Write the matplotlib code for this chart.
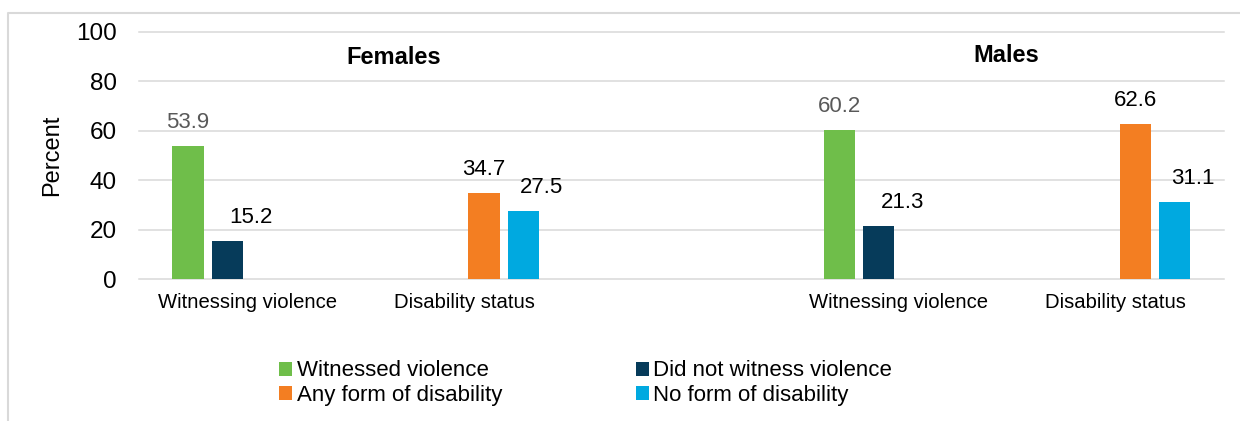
import numpy as np
import matplotlib
matplotlib.use('Agg')
import matplotlib.pyplot as plt
from matplotlib.lines import Line2D

plt.rcParams['font.family'] = ['Liberation Sans', 'DejaVu Sans']

# five slots on the x axis, the middle one left empty between the two panels
groups = ['Witnessing violence', 'Disability status', '',
          'Witnessing violence', 'Disability status']
panel_titles = ['Females', 'Males']
series_names = ['Witnessed violence', 'Did not witness violence',
                'Any form of disability', 'No form of disability']

witnessed = [53.9, np.nan, np.nan, 60.2, np.nan]
not_witnessed = [15.2, np.nan, np.nan, 21.3, np.nan]
any_disability = [np.nan, 34.7, np.nan, np.nan, 62.6]
no_disability = [np.nan, 27.5, np.nan, np.nan, 31.1]

colors = ['#6fbe4a', '#063b5a', '#f37e22', '#00a9e0']
label_colors = ['#595959', '#000000', '#000000', '#000000']
label_dx = [0, 17, 0, 13]   # points, nudges the second label of each pair

W, H = 1240, 421
fig = plt.figure(figsize=(W / 100, H / 100), dpi=100)
ax = fig.add_axes([138.7 / W, 1 - 279 / H, (1224 - 138.7) / W, (279 - 32) / H])

x = np.arange(len(groups))
pitch = 0.182
width = 0.144
series = [witnessed, not_witnessed, any_disability, no_disability]
bars = []
for i, vals in enumerate(series):
    pos = x + (i - 1.5) * pitch
    b = ax.bar(pos, vals, width, color=colors[i], label=series_names[i], zorder=2)
    bars.append(b)
    for p, v in zip(pos, vals):
        if np.isnan(v):
            continue
        ax.annotate(f'{v:.1f}', (p, v), xytext=(label_dx[i], 17),
                    textcoords='offset points', ha='center', va='center',
                    fontsize=16, color=label_colors[i])

ax.text(0.676, 89.6, panel_titles[0], ha='center', va='center',
        fontsize=17, fontweight='bold')
ax.text(3.497, 90.6, panel_titles[1], ha='center', va='center',
        fontsize=17, fontweight='bold')

ax.set_xlim(-0.5, len(groups) - 0.5)
ax.set_ylim(0, 100)
ax.set_yticks(np.arange(0, 101, 20))
ax.set_xticks(x)
ax.set_xticklabels(groups, fontsize=14.6)
ax.tick_params(axis='x', length=0, pad=10.3)
ax.tick_params(axis='y', length=0, pad=15.6, labelsize=17.5)
for s in ax.spines.values():
    s.set_visible(False)
ax.grid(axis='y', color='#d9d9d9', linewidth=1.1, zorder=0)
ax.set_axisbelow(True)
for gl in ax.get_ygridlines():
    gl.set_clip_on(False)

ax.set_ylabel('Percent', fontsize=17)
ax.yaxis.set_label_coords(-0.070, 0.5)

# outer frame, only the left and top edges fall inside the image
fig.add_artist(Line2D([8.3 / W, 8.3 / W, 1.0], [0, 1 - 13.3 / H, 1 - 13.3 / H],
                      transform=fig.transFigure, color='#d9d9d9', lw=1.5))

order = [0, 2, 1, 3]
fig.legend([bars[k] for k in order], [series_names[k] for k in order],
           ncol=2, loc='upper left', bbox_to_anchor=(279.3 / W, 1 - 360.5 / H),
           frameon=False, fontsize=16, borderpad=0, borderaxespad=0,
           handlelength=0.585, handleheight=0.585, handletextpad=0.21,
           columnspacing=6.0, labelspacing=0.17)

fig.savefig('out.png', dpi=100)
